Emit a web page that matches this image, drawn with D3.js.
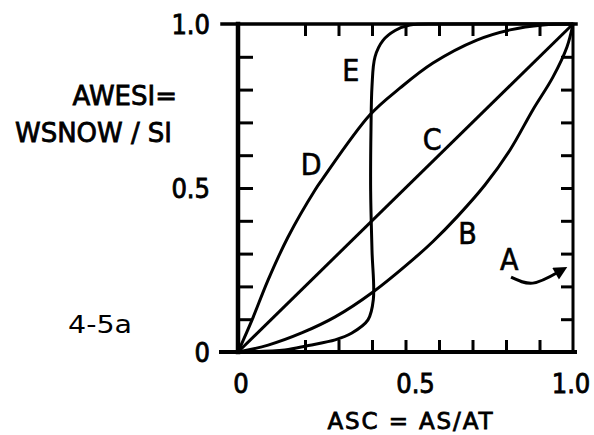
<!DOCTYPE html>
<html>
<head>
<meta charset="utf-8">
<script src="https://cdn.jsdelivr.net/npm/d3@7"></script>
<style>
  body { margin: 0; background: #fff; }
  text { font-family: "DejaVu Sans", sans-serif; fill: #000; }
</style>
</head>
<body>
<div id="chart"></div>
<script>
const width = 594;
const height = 435;

// curve data (ASC, AWESI)
const curveB = [[0,0],[0.09,0.021],[0.19,0.058],[0.29,0.107],[0.403,0.183],[0.528,0.287],[0.582,0.337],[0.654,0.412],[0.737,0.509],[0.812,0.616],[0.88,0.738],[0.94,0.838],[0.982,0.93],[1,1]];
const curveC = [[0,0],[1,1]];
const curveD = [[0,0],[0.042,0.098],[0.09,0.22],[0.149,0.35],[0.23,0.494],[0.25,0.524],[0.394,0.723],[0.484,0.805],[0.582,0.881],[0.713,0.951],[0.812,0.982],[0.91,0.997],[1,1]];
const curveE = [[0,0],[0.14,0.006],[0.21,0.02],[0.29,0.037],[0.34,0.058],[0.388,0.098],[0.404,0.16],[0.40,0.31],[0.396,0.49],[0.397,0.68],[0.40,0.81],[0.409,0.90],[0.433,0.95],[0.469,0.98],[0.513,0.997],[0.63,1],[1,1]];
const curves = [curveB, curveC, curveD, curveE];

const curveNames = ["A", "B", "C", "D", "E"];
const namePos = [[0.81,0.25],[0.685,0.33],[0.58,0.615],[0.218,0.54],[0.337,0.825]];
const arrowA = [[0.815,0.228],[0.88,0.21],[0.955,0.243]];

const xTicks = [0.2,0.3,0.4,0.5,0.6,0.7,0.8,0.9];
const yTicks = [0.1,0.2,0.3,0.4,0.5,0.6,0.7,0.8,0.9];
const tickLabels = [0, 0.5, 1];
const tickText = ["0", "0.5", "1.0"];

const svg = d3.select("#chart").append("svg")
    .attr("width", width)
    .attr("height", height);

const x = d3.scaleLinear().domain([0, 1]).range([238, 573]);
const y = d3.scaleLinear().domain([0, 1]).range([352, 24]);

// ticks, all pointing inward
function ticks(g) {
    g.select(".domain").remove();
    g.selectAll("line").attr("stroke", "#000").attr("stroke-width", 3);
}
svg.append("g").attr("transform", `translate(0,${y(0)})`)
    .call(d3.axisBottom(x).tickValues(xTicks).tickSize(-12).tickFormat("")).call(ticks);
svg.append("g").attr("transform", `translate(0,${y(1)})`)
    .call(d3.axisTop(x).tickValues(xTicks).tickSize(-12).tickFormat("")).call(ticks);
svg.append("g").attr("transform", `translate(${x(0)},0)`)
    .call(d3.axisLeft(y).tickValues(yTicks).tickSize(-15).tickFormat("")).call(ticks);
svg.append("g").attr("transform", `translate(${x(1)},0)`)
    .call(d3.axisRight(y).tickValues(yTicks).tickSize(-12).tickFormat("")).call(ticks);

// frame
const frame = svg.append("g").attr("stroke", "#000").attr("stroke-linecap", "square");
frame.append("line").attr("x1", x(0) - 17).attr("x2", x(1) + 2).attr("y1", y(0)).attr("y2", y(0)).attr("stroke-width", 4);
frame.append("line").attr("x1", x(0) - 16).attr("x2", x(1) + 3).attr("y1", y(1)).attr("y2", y(1)).attr("stroke-width", 3.5);
frame.append("line").attr("x1", x(0)).attr("x2", x(0)).attr("y1", y(0)).attr("y2", y(1)).attr("stroke-width", 4.5);
frame.append("line").attr("x1", x(1)).attr("x2", x(1)).attr("y1", y(0)).attr("y2", y(1)).attr("stroke-width", 3);

// curves
const line = d3.line().x(d => x(d[0])).y(d => y(d[1])).curve(d3.curveCatmullRom.alpha(0.5));
svg.append("g").selectAll("path")
    .data(curves)
    .enter()
    .append("path")
    .attr("d", line)
    .attr("fill", "none")
    .attr("stroke", "#000")
    .attr("stroke-width", 3)
    .attr("stroke-linejoin", "round");

// arrow for A
svg.append("defs").append("marker")
    .attr("id", "head")
    .attr("viewBox", "0 0 10 10")
    .attr("refX", 2).attr("refY", 5)
    .attr("markerWidth", 5).attr("markerHeight", 4.5)
    .attr("orient", "auto")
    .append("path").attr("d", "M0,0L10,5L0,10Z").attr("fill", "#000");
svg.append("path")
    .attr("d", d3.line().x(d => x(d[0])).y(d => y(d[1])).curve(d3.curveNatural)(arrowA))
    .attr("fill", "none")
    .attr("stroke", "#000")
    .attr("stroke-width", 3)
    .attr("marker-end", "url(#head)");

// curve names
svg.append("g").selectAll("text")
    .data(curveNames)
    .enter()
    .append("text")
    .attr("x", (d, i) => x(namePos[i][0]))
    .attr("y", (d, i) => y(namePos[i][1]))
    .attr("text-anchor", "middle")
    .style("font-family", "'DejaVu Sans Condensed', 'DejaVu Sans', sans-serif")
    .style("font-size", "30px")
    .attr("stroke", "#000").attr("stroke-width", 0.6)
    .text(d => d);

// tick labels
const bottomShift = [3, 10, -2];
svg.append("g").selectAll("text")
    .data(tickLabels)
    .enter()
    .append("text")
    .attr("x", (d, i) => x(d) + bottomShift[i])
    .attr("y", 393)
    .attr("text-anchor", "middle")
    .style("font-family", "'DejaVu Sans Condensed', 'DejaVu Sans', sans-serif")
    .style("font-size", "27px")
    .attr("stroke", "#000").attr("stroke-width", 0.8)
    .text((d, i) => tickText[i]);

svg.append("g").selectAll("text")
    .data(tickLabels)
    .enter()
    .append("text")
    .attr("x", 210)
    .attr("y", d => y(d))
    .attr("dy", "0.36em")
    .attr("text-anchor", "end")
    .style("font-family", "'DejaVu Sans Condensed', 'DejaVu Sans', sans-serif")
    .style("font-size", "27px")
    .attr("stroke", "#000").attr("stroke-width", 0.8)
    .text((d, i) => tickText[i]);

// axis titles
svg.append("text")
    .attr("x", 410).attr("y", 429)
    .attr("text-anchor", "middle")
    .style("font-size", "23px")
    .attr("stroke", "#000").attr("stroke-width", 0.8)
    .attr("textLength", 165)
    .text("ASC = AS/AT");

svg.append("text")
    .attr("x", 177).attr("y", 105)
    .attr("text-anchor", "end")
    .style("font-size", "26px")
    .attr("stroke", "#000").attr("stroke-width", 0.8)
    .text("AWESI=");

svg.append("text")
    .attr("x", 172).attr("y", 142)
    .attr("text-anchor", "end")
    .style("font-size", "26px")
    .attr("stroke", "#000").attr("stroke-width", 0.8)
    .attr("textLength", 157)
    .text("WSNOW / SI");

svg.append("text")
    .attr("x", 68).attr("y", 333)
    .style("font-size", "24px")
    .attr("textLength", 64)
    .attr("lengthAdjust", "spacingAndGlyphs")
    .text("4-5a");
</script>
</body>
</html>
